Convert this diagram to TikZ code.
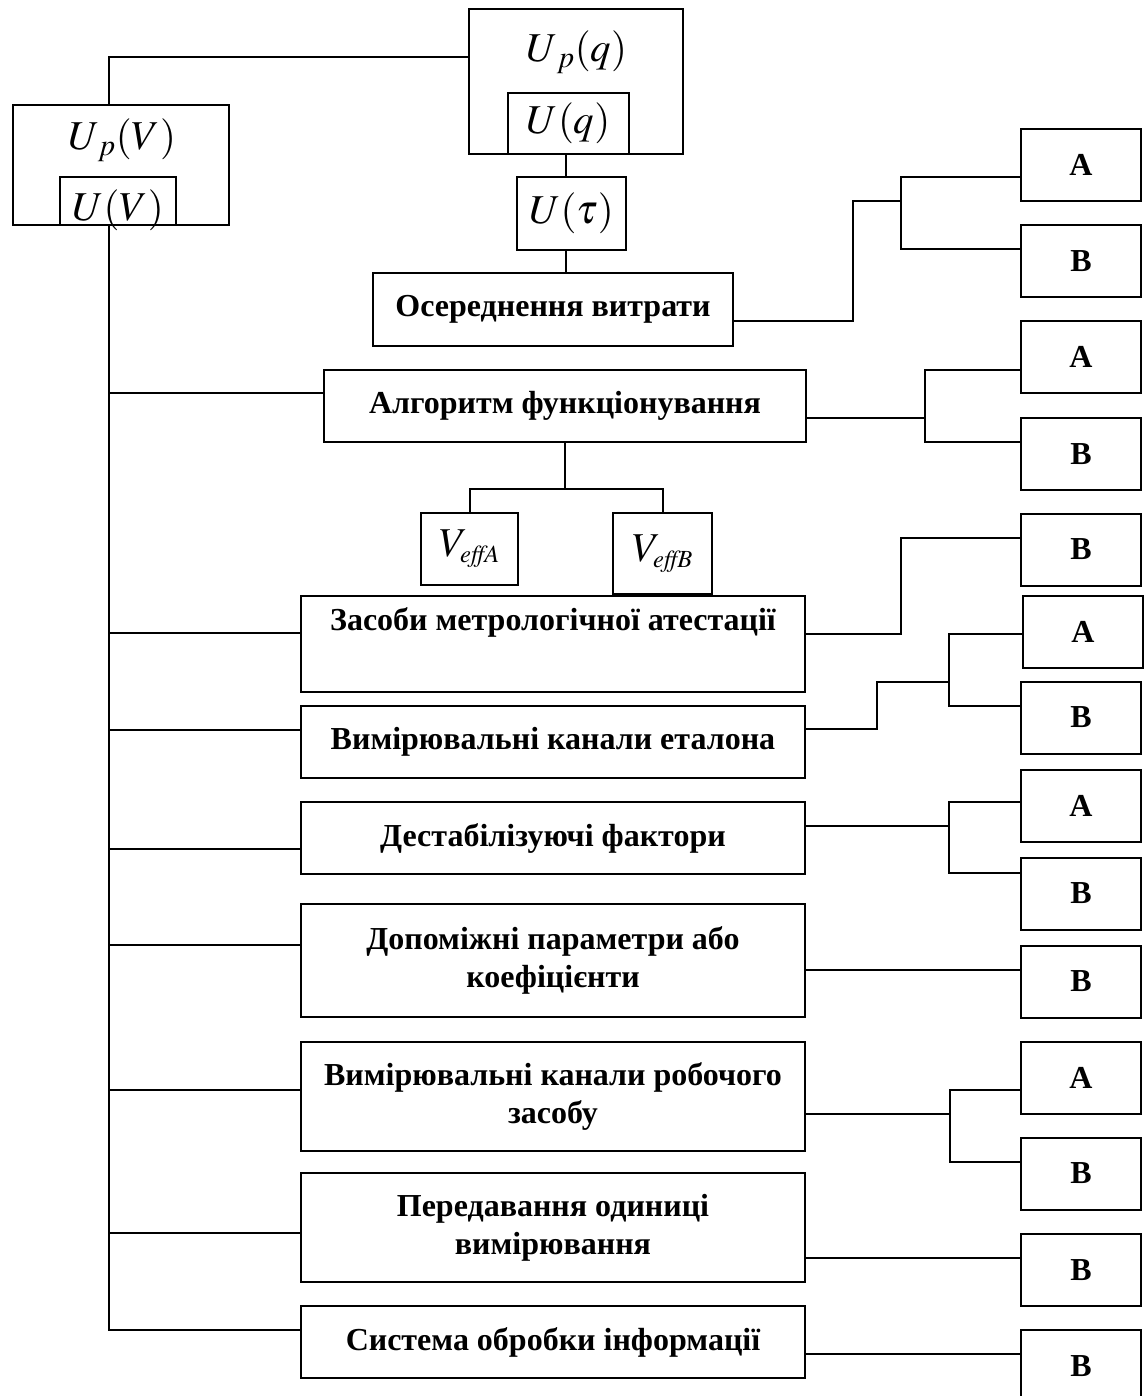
\documentclass[tikz,border=0pt]{standalone}
\usepackage{mathptmx}
\usepackage[no-math]{fontspec}
\setmainfont{Liberation Serif}
\usetikzlibrary{positioning}
\tikzset{every picture/.style={line width=2pt}}

\begin{document}
\begin{tikzpicture}[x=1pt, y=-1pt,
        box/.style={draw, inner sep=0pt, outer sep=0pt, align=center,
            font=\bfseries\fontsize{32}{38}\selectfont},
        mbox/.style={draw, inner sep=0pt, outer sep=0pt},
        mth/.style={inner sep=0pt, font=\fontsize{41}{44}\selectfont},
        ab/.style={box, minimum width=120pt, minimum height=72pt}]
        \useasboundingbox (0,0) rectangle (1144,1396);
        \node[mbox, minimum width=214pt, minimum height=145pt] (upq) at (576,81.5) {};
        \node[mth] (upql) at (577,52) {$U_{\,p}(q)$};
        \node[mbox, mth, minimum width=121pt, minimum height=61pt] (uq) at (568.5,123.5) {$U(q)$};
        \node[mbox, minimum width=216pt, minimum height=120pt] (upv) at (121,165) {};
        \node[mth] (upvl) at (122,140) {$U_{\,p}(V)$};
        \node[mbox, minimum width=116pt, minimum height=48pt] (uv) at (118,201) {};
        \node[mth] (uvl) at (118,210) {$U(V)$};
        \node[mbox, mth, minimum width=109pt, minimum height=73pt] (utau) at (571.5,213.5) {$U(\tau)$};
        \node[mbox, mth, minimum width=97pt, minimum height=72pt] (vea) at (469.5,549) {$V_{\scriptscriptstyle\mathit{effA}}$};
        \node[mbox, mth, minimum width=99pt, minimum height=81pt] (veb) at (662.5,553.5) {$V_{\scriptscriptstyle\mathit{effB}}$};

        \node[box, minimum width=360pt, minimum height=73pt] (osr) at (553,309.5) {Осереднення витрати};
        \node[box, minimum width=482pt, minimum height=72pt] (alg) at (565,406) {Алгоритм функціонування};
        \node[box, minimum width=504pt, minimum height=96pt] (zas) at (553,644) {Засоби метрологічної атестації\\\strut};
        \node[box, minimum width=504pt, minimum height=72pt] (etl) at (553,742) {Вимірювальні канали еталона};
        \node[box, minimum width=504pt, minimum height=72pt] (dst) at (553,838) {Дестабілізуючі фактори};
        \node[box, minimum width=504pt, minimum height=113pt] (dop) at (553,960.5) {Допоміжні параметри або\\коефіцієнти};
        \node[box, minimum width=504pt, minimum height=109pt] (rob) at (553,1096.5) {Вимірювальні канали робочого\\засобу};
        \node[box, minimum width=504pt, minimum height=109pt] (per) at (553,1227.5) {Передавання одиниці\\вимірювання};
        \node[box, minimum width=504pt, minimum height=72pt] (sys) at (553,1342) {Система обробки інформації};

        \node[ab] (ra1) at (1081,165) {А};
        \node[ab] (rb1) at (1081,261.5) {В};
        \node[ab] (ra2) at (1081,357) {А};
        \node[ab] (rb2) at (1081,454) {В};
        \node[ab] (rb3) at (1081,549.5) {В};
        \node[ab] (ra4) at (1083,632) {А};
        \node[ab] (rb4) at (1081,717.5) {В};
        \node[ab] (ra5) at (1081,805.5) {А};
        \node[ab] (rb5) at (1081,893.5) {В};
        \node[ab] (rb6) at (1081,981.5) {В};
        \node[ab] (ra7) at (1081,1077.5) {А};
        \node[ab] (rb7) at (1081,1173.5) {В};
        \node[ab] (rb8) at (1081,1270) {В};
        \node[ab] (rb9) at (1081,1366) {В};

        \coordinate (trk) at (109,0);
        \coordinate (qv) at (566,0);
        \draw (trk |- upv.north) |- (upq.west |- 0,57);
        \draw (trk |- uv.south) -- (trk |- 0,1330) -- (sys.west |- 0,1330);
        \foreach \n/\y in {alg/393, zas/633, etl/730, dst/849, dop/945, rob/1090, per/1233}
            \draw (trk |- 0,\y) -- (\n.west |- 0,\y);
        \draw (qv |- uq.south) -- (qv |- utau.north);
        \draw (qv |- utau.south) -- (qv |- osr.north);
        \draw (alg.south) -- ++(0,47);
        \draw (vea.north) -- ++(0,-24) -| (veb.north);

        \draw (osr.east |- 0,321) -| (853,201) -- (901,201);
        \draw (ra1.west |- 0,177) -| (901,249) -- (rb1.west |- 0,249);
        \draw (alg.east |- 0,418) -- (925,418);
        \draw (ra2.west |- 0,370) -| (925,442) -- (rb2.west |- 0,442);
        \draw (zas.east |- 0,634) -| (901,538) -- (rb3.west |- 0,538);
        \draw (etl.east |- 0,729) -| (877,682) -- (949,682);
        \draw (ra4.west |- 0,634) -| (949,706) -- (rb4.west |- 0,706);
        \draw (dst.east |- 0,826) -- (949,826);
        \draw (ra5.west |- 0,802) -| (949,873) -- (rb5.west |- 0,873);
        \draw (dop.east |- 0,970) -- (rb6.west |- 0,970);
        \draw (rob.east |- 0,1114) -- (950,1114);
        \draw (ra7.west |- 0,1090) -| (950,1162) -- (rb7.west |- 0,1162);
        \draw (per.east |- 0,1258) -- (rb8.west |- 0,1258);
        \draw (sys.east |- 0,1354) -- (rb9.west |- 0,1354);
    \end{tikzpicture}
\end{document}
